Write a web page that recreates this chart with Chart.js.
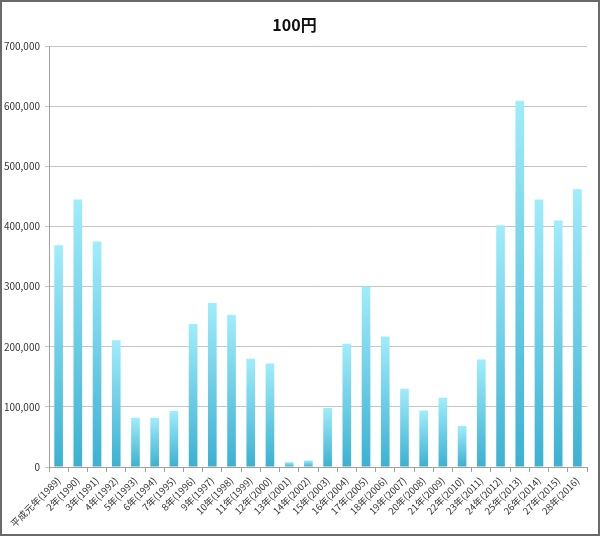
<!DOCTYPE html>
<html>
<head>
<meta charset="utf-8">
<script src="https://cdn.jsdelivr.net/npm/chart.js@4"></script>
<style>
html,body{margin:0;padding:0;background:#fff;}
#wrap{width:600px;height:536px;box-sizing:border-box;border:2px solid #6a6a6a;position:relative;}
canvas{display:block;}
</style>
</head>
<body>
<div id="wrap"><canvas id="c" width="596" height="532"></canvas></div>
<script>
const titleText = "100円";
const categories = ["平成元年(1989)","2年(1990)","3年(1991)","4年(1992)","5年(1993)","6年(1994)","7年(1995)","8年(1996)","9年(1997)","10年(1998)","11年(1999)","12年(2000)","13年(2001)","14年(2002)","15年(2003)","16年(2004)","17年(2005)","18年(2006)","19年(2007)","20年(2008)","21年(2009)","22年(2010)","23年(2011)","24年(2012)","25年(2013)","26年(2014)","27年(2015)","28年(2016)"];
const values = [369000,445000,375000,211000,82000,82000,93000,238000,273000,253000,180000,172000,8000,11000,98000,205000,300000,217000,130000,94000,115000,68000,179000,402000,609000,445000,410000,462000];
const yMin = 0, yMax = 700000, yStep = 100000;

const FONT = '"Noto Sans CJK JP", "Noto Sans", sans-serif';

function barGradient(ctx){
  const chart = ctx.chart;
  if (!chart.chartArea || ctx.type !== 'data') return '#5ccbe6';
  const y = chart.scales.y;
  const top = y.getPixelForValue(ctx.parsed.y);
  const bot = y.getPixelForValue(0);
  if (!isFinite(top) || !isFinite(bot) || top === bot) return '#5ccbe6';
  const g = chart.ctx.createLinearGradient(0, top, 0, bot);
  g.addColorStop(0, '#a0ecfb');
  g.addColorStop(1, '#3bb1d2');
  return g;
}

new Chart(document.getElementById('c'), {
  type: 'bar',
  data: {
    labels: categories,
    datasets: [{
      data: values,
      backgroundColor: barGradient,
      borderWidth: 0,
      barPercentage: 0.9,
      categoryPercentage: 0.5
    }]
  },
  options: {
    responsive: false,
    animation: false,
    layout: { padding: { top: 0, right: 11, bottom: 0, left: 0 } },
    plugins: {
      legend: { display: false },
      tooltip: { enabled: false },
      title: {
        display: true,
        text: titleText,
        color: '#111',
        font: { family: FONT, size: 16, weight: 'bold' },
        padding: { top: 13, bottom: 12 }
      }
    },
    scales: {
      x: {
        grid: { display: true, drawOnChartArea: false, drawTicks: true, tickLength: 5, color: '#a0a0a0', offset: true },
        border: { color: '#a0a0a0', width: 1 },
        ticks: {
          color: '#333',
          font: { family: FONT, size: 9.5 },
          minRotation: 45, maxRotation: 45,
          autoSkip: false,
          padding: 3
        },
        afterFit: (s) => { s.height = 67; }
      },
      y: {
        min: yMin, max: yMax,
        grid: { color: '#c4c4c4', lineWidth: 1, drawTicks: true, tickLength: 4 },
        border: { color: '#a0a0a0', width: 1 },
        ticks: {
          stepSize: yStep,
          color: '#333',
          font: { family: FONT, size: 10 },
          padding: 5,
          callback: (v) => v.toLocaleString('en-US')
        },
        afterFit: (s) => { s.width = 47; }
      }
    }
  }
});
</script>
</body>
</html>
